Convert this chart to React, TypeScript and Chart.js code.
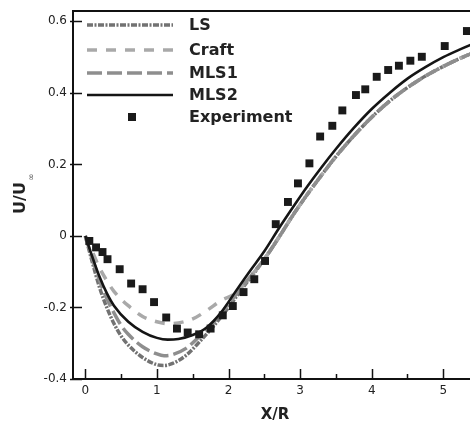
import React, { useEffect, useRef } from "react";
import { Chart, registerables } from "chart.js";

Chart.register(...registerables);

// ---------- data ----------
const lsX = [0, 0.1, 0.2, 0.3, 0.4, 0.5, 0.6, 0.8, 1.0, 1.1, 1.2, 1.4, 1.6, 1.8, 2.0, 2.2, 2.4, 2.5, 2.7, 2.9, 3.1, 3.3, 3.5, 3.75, 4.0, 4.25, 4.5, 4.75, 5.0, 5.25, 5.45];
const lsY = [0, -0.075, -0.145, -0.2, -0.245, -0.28, -0.305, -0.34, -0.36, -0.362, -0.358, -0.335, -0.295, -0.25, -0.2, -0.145, -0.093, -0.065, -0.005, 0.058, 0.116, 0.17, 0.222, 0.28, 0.332, 0.377, 0.415, 0.447, 0.474, 0.498, 0.515];

const craftX = [0, 0.1, 0.2, 0.3, 0.4, 0.6, 0.8, 1.0, 1.15, 1.3, 1.5, 1.7, 1.9, 2.1, 2.3, 2.5, 2.7, 2.9, 3.1, 3.3, 3.5, 3.75, 4.0, 4.25, 4.5, 4.75, 5.0, 5.25, 5.45];
const craftY = [0, -0.045, -0.09, -0.125, -0.155, -0.195, -0.225, -0.24, -0.245, -0.243, -0.232, -0.208, -0.18, -0.16, -0.115, -0.065, -0.005, 0.058, 0.116, 0.17, 0.222, 0.28, 0.332, 0.377, 0.415, 0.447, 0.474, 0.498, 0.515];

const mls1X = [0, 0.1, 0.2, 0.3, 0.4, 0.5, 0.6, 0.8, 1.0, 1.1, 1.2, 1.4, 1.6, 1.8, 2.0, 2.2, 2.4, 2.5, 2.7, 2.9, 3.1, 3.3, 3.5, 3.75, 4.0, 4.25, 4.5, 4.75, 5.0, 5.25, 5.45];
const mls1Y = [0, -0.065, -0.125, -0.175, -0.215, -0.25, -0.275, -0.31, -0.33, -0.335, -0.333, -0.315, -0.28, -0.24, -0.19, -0.14, -0.09, -0.065, -0.005, 0.058, 0.116, 0.17, 0.222, 0.28, 0.332, 0.377, 0.415, 0.447, 0.474, 0.498, 0.515];

const mls2X = [0, 0.1, 0.2, 0.3, 0.4, 0.6, 0.8, 1.0, 1.15, 1.3, 1.5, 1.7, 1.9, 2.1, 2.3, 2.5, 2.7, 2.9, 3.1, 3.3, 3.5, 3.75, 4.0, 4.25, 4.5, 4.75, 5.0, 5.25, 5.45];
const mls2Y = [0, -0.06, -0.115, -0.16, -0.195, -0.24, -0.268, -0.285, -0.29, -0.288, -0.277, -0.255, -0.213, -0.155, -0.098, -0.043, 0.02, 0.08, 0.138, 0.192, 0.243, 0.302, 0.355, 0.4, 0.44, 0.472, 0.5, 0.523, 0.54];

const expX = [0.056, 0.15, 0.24, 0.31, 0.48, 0.64, 0.8, 0.96, 1.13, 1.28, 1.43, 1.59, 1.75, 1.92, 2.06, 2.21, 2.36, 2.51, 2.66, 2.83, 2.97, 3.13, 3.28, 3.45, 3.59, 3.78, 3.91, 4.07, 4.23, 4.38, 4.54, 4.7, 5.02, 5.33];
const expY = [-0.014, -0.032, -0.045, -0.065, -0.093, -0.133, -0.149, -0.185, -0.228, -0.259, -0.27, -0.275, -0.259, -0.222, -0.196, -0.157, -0.121, -0.07, 0.033, 0.095, 0.147, 0.203, 0.278, 0.308, 0.351, 0.394, 0.41, 0.445, 0.464, 0.476, 0.49, 0.501, 0.531, 0.573];

const seriesNames = ["LS", "Craft", "MLS1", "MLS2", "Experiment"];
const xTickValues = [0, 0.5, 1, 1.5, 2, 2.5, 3, 3.5, 4, 4.5, 5];
const xTickLabels = ["0", "", "1", "", "2", "", "3", "", "4", "", "5"];
const yTickValues = [-0.4, -0.2, 0, 0.2, 0.4, 0.6];
const yTickLabels = ["-0.4", "-0.2", "0", "0.2", "0.4", "0.6"];
const xTitle = "X/R";
const yTitleMain = "U/U";
const yTitleSub = "∞";

const zip = (xs: number[], ys: number[]) => xs.map((x, i) => ({ x, y: ys[i] }));

const FONT = "'DejaVu Sans', sans-serif";
const TEXT = "#222222";
const W = 470;
const H = 425;

const framePlugin = {
  id: "frame",
  afterDraw(chart: any) {
    const { ctx, chartArea } = chart;
    const xs = chart.scales.x;
    const ys = chart.scales.y;
    ctx.save();
    ctx.strokeStyle = "#111111";
    ctx.lineWidth = 2;
    ctx.beginPath();
    ctx.moveTo(chartArea.left, chartArea.top);
    ctx.lineTo(chart.width, chartArea.top);
    ctx.moveTo(chartArea.left, chartArea.top - 1);
    ctx.lineTo(chartArea.left, chartArea.bottom + 1);
    ctx.moveTo(chartArea.left - 1, chartArea.bottom);
    ctx.lineTo(chart.width, chartArea.bottom);
    ctx.stroke();
    ctx.lineWidth = 1.5;
    ctx.beginPath();
    xTickValues.forEach((v, i) => {
      const px = Math.round(xs.getPixelForValue(v)) + 0.5;
      const len = xTickLabels[i] !== "" ? 10 : 5;
      ctx.moveTo(px, chartArea.bottom);
      ctx.lineTo(px, chartArea.bottom - len);
    });
    yTickValues.forEach((v) => {
      const py = Math.round(ys.getPixelForValue(v)) + 0.5;
      ctx.moveTo(chartArea.left - 3, py);
      ctx.lineTo(chartArea.left + 9, py);
    });
    ctx.stroke();

    // axis titles
    ctx.fillStyle = TEXT;
    ctx.font = `bold 15px ${FONT}`;
    ctx.textAlign = "center";
    ctx.textBaseline = "middle";
    ctx.fillText(xTitle, 275, 415);

    ctx.save();
    ctx.translate(21, 198);
    ctx.rotate(-Math.PI / 2);
    ctx.font = `bold 16px ${FONT}`;
    const w = ctx.measureText(yTitleMain).width;
    ctx.textAlign = "left";
    ctx.fillText(yTitleMain, -w / 2, 0);
    ctx.font = `9px ${FONT}`;
    ctx.fillStyle = "#666666";
    ctx.fillText(yTitleSub, w / 2 + 1, 11);
    ctx.restore();

    // legend
    const rows = [25, 50, 73, 95, 117];
    const x0 = 87, x1 = 173, tx = 189;
    chart.data.datasets.forEach((ds: any, i: number) => {
      const y = rows[i];
      if (ds.showLine !== false) {
        ctx.save();
        ctx.strokeStyle = ds.borderColor;
        ctx.lineWidth = ds.borderWidth;
        ctx.setLineDash(ds.borderDash || []);
        ctx.beginPath();
        ctx.moveTo(x0, y);
        ctx.lineTo(x1, y);
        ctx.stroke();
        ctx.restore();
      } else {
        ctx.fillStyle = ds.pointBackgroundColor;
        ctx.fillRect(132 - 4, y - 4, 8, 8);
      }
      ctx.fillStyle = TEXT;
      ctx.font = `bold 16px ${FONT}`;
      ctx.textAlign = "left";
      ctx.textBaseline = "middle";
      ctx.fillText(ds.label, tx, y + 1);
    });
    ctx.restore();
  },
};

export default function App() {
  const ref = useRef<HTMLCanvasElement>(null);
  useEffect(() => {
    if (!ref.current) return;
    const lineCommon = { pointRadius: 0, fill: false, tension: 0.4, cubicInterpolationMode: "monotone" as const };
    const chart = new Chart(ref.current, {
      type: "line",
      data: {
        datasets: [
          { ...lineCommon, label: seriesNames[0], data: zip(lsX, lsY), borderColor: "#727272", borderWidth: 3.5, borderDash: [6, 1.5, 2, 1.5], order: 4 },
          { ...lineCommon, label: seriesNames[1], data: zip(craftX, craftY), borderColor: "#a9a9a9", borderWidth: 3.5, borderDash: [10, 9], order: 3 },
          { ...lineCommon, label: seriesNames[2], data: zip(mls1X, mls1Y), borderColor: "#8e8e8e", borderWidth: 3.5, borderDash: [15, 5], order: 2 },
          { ...lineCommon, label: seriesNames[3], data: zip(mls2X, mls2Y), borderColor: "#151515", borderWidth: 2.6, order: 1 },
          {
            label: seriesNames[4],
            data: zip(expX, expY),
            showLine: false,
            pointStyle: "rect",
            pointRadius: 5.6,
            pointBorderWidth: 0,
            pointBackgroundColor: "#1a1a1a",
            pointBorderColor: "#1a1a1a",
            order: 0,
          },
        ],
      },
      options: {
        animation: false,
        responsive: false,
        events: [],
        layout: { autoPadding: false, padding: { top: 11, right: 0, left: 0, bottom: 0 } },
        plugins: { legend: { display: false }, tooltip: { enabled: false } },
        scales: {
          x: {
            type: "linear",
            min: -0.172,
            max: 5.373,
            afterBuildTicks: (s: any) => { s.ticks = xTickValues.map((v) => ({ value: v })); },
            afterFit: (s: any) => { s.height = 46; s.paddingLeft = 0; s.paddingRight = 0; },
            grid: { display: false, drawTicks: false },
            border: { display: false },
            ticks: {
              autoSkip: false,
              maxRotation: 0,
              padding: 5,
              color: TEXT,
              font: { family: FONT, size: 12 },
              callback: (v: any) => { const i = xTickValues.indexOf(Number(v)); return i >= 0 ? xTickLabels[i] : ""; },
            },
          },
          y: {
            type: "linear",
            min: -0.4,
            max: 0.629,
            afterBuildTicks: (s: any) => { s.ticks = yTickValues.map((v) => ({ value: v })); },
            afterFit: (s: any) => { s.width = 73; s.paddingTop = 0; s.paddingBottom = 0; },
            grid: { display: false, drawTicks: false },
            border: { display: false },
            ticks: {
              autoSkip: false,
              padding: 6,
              color: TEXT,
              font: { family: FONT, size: 12 },
              callback: (v: any) => { const i = yTickValues.findIndex((t) => Math.abs(t - Number(v)) < 1e-9); return i >= 0 ? yTickLabels[i] : ""; },
            },
          },
        },
      },
      plugins: [framePlugin],
    });
    return () => chart.destroy();
  }, []);
  return (
    <div style={{ position: "fixed", left: 0, top: 0, width: W, height: H, overflow: "hidden" }}>
      <canvas ref={ref} width={W} height={H} style={{ display: "block" }} />
    </div>
  );
}
